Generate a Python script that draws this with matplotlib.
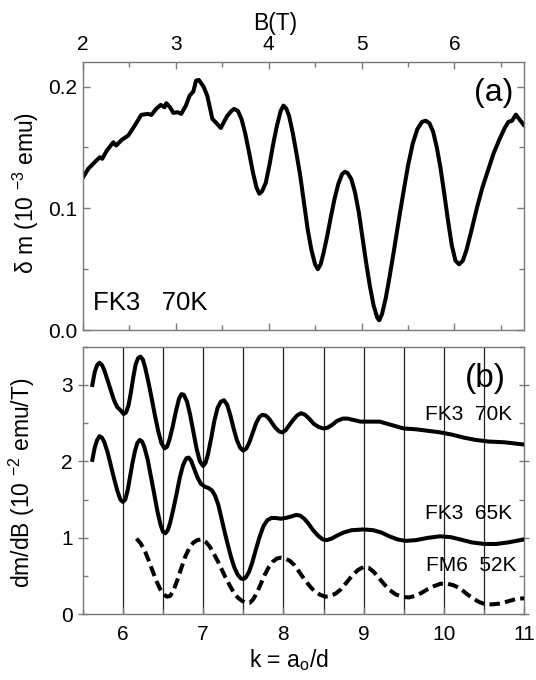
import matplotlib

matplotlib.use("Agg")
import matplotlib.pyplot as plt
from matplotlib.ticker import MultipleLocator, FormatStrFormatter

plt.rcParams["font.family"] = ["Liberation Sans", "DejaVu Sans"]
plt.rcParams["mathtext.fontset"] = "custom"
plt.rcParams["mathtext.rm"] = "Liberation Sans"
plt.rcParams["mathtext.it"] = "Liberation Sans:italic"

# panel (a): delta m vs B, FK3 70K
b_field = [2.00, 2.06, 2.13, 2.185, 2.21, 2.26, 2.33, 2.36, 2.42, 2.49, 2.56, 2.63,
           2.70, 2.74, 2.79, 2.84, 2.88, 2.90, 2.94, 2.975, 3.02, 3.06, 3.11, 3.15,
           3.19, 3.22, 3.25, 3.30, 3.34, 3.395, 3.43, 3.485, 3.555, 3.60, 3.63, 3.67,
           3.71, 3.75, 3.79, 3.83, 3.87, 3.90, 3.93, 3.97, 4.01, 4.05, 4.09, 4.13,
           4.16, 4.19, 4.22, 4.26, 4.30, 4.34, 4.38, 4.42, 4.46, 4.50, 4.53, 4.56,
           4.59, 4.63, 4.67, 4.71, 4.75, 4.79, 4.82, 4.85, 4.89, 4.93, 4.97, 5.01,
           5.05, 5.09, 5.13, 5.17, 5.19, 5.22, 5.26, 5.30, 5.35, 5.40, 5.45, 5.50,
           5.55, 5.60, 5.65, 5.69, 5.73, 5.77, 5.81, 5.85, 5.89, 5.93, 5.97, 6.01,
           6.05, 6.09, 6.13, 6.18, 6.24, 6.30, 6.36, 6.42, 6.48, 6.54, 6.58, 6.62,
           6.66, 6.70, 6.75]
delta_m = [0.125, 0.1325, 0.138, 0.142, 0.1407, 0.1475, 0.1543, 0.1516, 0.1563, 0.1598,
           0.168, 0.1768, 0.1776, 0.1768, 0.1817, 0.185, 0.183, 0.1864, 0.183, 0.1784,
           0.179, 0.1776, 0.1844, 0.1926, 0.196, 0.205, 0.2055, 0.200, 0.1926, 0.1735,
           0.1708, 0.166, 0.176, 0.180, 0.1817, 0.180, 0.173, 0.161, 0.146, 0.130,
           0.117, 0.112, 0.114, 0.121, 0.136, 0.153, 0.168, 0.180, 0.1844, 0.182,
           0.176, 0.162, 0.145, 0.127, 0.105, 0.083, 0.066, 0.054, 0.050, 0.054,
           0.063, 0.077, 0.093, 0.108, 0.120, 0.128, 0.130, 0.129, 0.124, 0.113,
           0.097, 0.076, 0.055, 0.036, 0.020, 0.010, 0.008, 0.013, 0.026, 0.043,
           0.066, 0.090, 0.113, 0.135, 0.153, 0.165, 0.171, 0.172, 0.170, 0.163,
           0.150, 0.133, 0.112, 0.090, 0.070, 0.057, 0.054, 0.057, 0.066, 0.081,
           0.100, 0.117, 0.131, 0.145, 0.156, 0.166, 0.171, 0.172, 0.177, 0.173,
           0.168]

# panel (b): dm/dB vs k
k_70 = [5.62, 5.65, 5.68, 5.71, 5.74, 5.77, 5.81, 5.85, 5.89, 5.93, 5.97, 6.01, 6.04,
        6.07, 6.10, 6.13, 6.16, 6.19, 6.22, 6.25, 6.28, 6.32, 6.36, 6.40, 6.44, 6.48,
        6.52, 6.55, 6.58, 6.62, 6.66, 6.70, 6.73, 6.76, 6.80, 6.84, 6.88, 6.92, 6.96,
        7.00, 7.03, 7.06, 7.10, 7.14, 7.18, 7.22, 7.26, 7.30, 7.34, 7.38, 7.42, 7.46,
        7.50, 7.54, 7.58, 7.62, 7.66, 7.70, 7.74, 7.78, 7.82, 7.86, 7.90, 7.95, 7.99,
        8.03, 8.07, 8.12, 8.17, 8.22, 8.27, 8.32, 8.38, 8.44, 8.50, 8.55, 8.61, 8.67,
        8.74, 8.80, 8.88, 8.96, 9.10, 9.20, 9.30, 9.40, 9.50, 9.65, 9.80, 9.95, 10.10,
        10.25, 10.40, 10.55, 10.75, 11.0]
dmdb_70 = [3.00, 3.17, 3.26, 3.29, 3.26, 3.19, 3.06, 2.93, 2.80, 2.71, 2.67, 2.62, 2.64,
           2.73, 2.90, 3.10, 3.27, 3.35, 3.37, 3.33, 3.22, 3.03, 2.82, 2.60, 2.40, 2.24,
           2.17, 2.19, 2.28, 2.45, 2.65, 2.82, 2.88, 2.87, 2.78, 2.60, 2.38, 2.16, 2.00,
           1.94, 1.98, 2.09, 2.30, 2.53, 2.70, 2.78, 2.80, 2.74, 2.60, 2.43, 2.28, 2.18,
           2.14, 2.17, 2.26, 2.38, 2.50, 2.58, 2.61, 2.60, 2.56, 2.50, 2.44, 2.39, 2.38,
           2.41, 2.47, 2.54, 2.60, 2.63, 2.61, 2.56, 2.49, 2.45, 2.43, 2.44, 2.48, 2.53,
           2.56, 2.56, 2.54, 2.52, 2.52, 2.52, 2.49, 2.46, 2.43, 2.42, 2.40, 2.38, 2.35,
           2.31, 2.28, 2.26, 2.25, 2.22]

k_65 = [5.62, 5.65, 5.68, 5.71, 5.74, 5.77, 5.81, 5.85, 5.89, 5.93, 5.97, 6.00, 6.03,
        6.06, 6.09, 6.12, 6.15, 6.18, 6.21, 6.24, 6.27, 6.31, 6.35, 6.39, 6.43, 6.47,
        6.50, 6.53, 6.56, 6.59, 6.63, 6.67, 6.71, 6.75, 6.79, 6.82, 6.85, 6.89, 6.93,
        6.97, 7.02, 7.07, 7.11, 7.15, 7.19, 7.23, 7.27, 7.31, 7.35, 7.39, 7.43, 7.47,
        7.50, 7.53, 7.57, 7.61, 7.65, 7.70, 7.75, 7.80, 7.85, 7.90, 7.97, 8.03, 8.10,
        8.16, 8.21, 8.26, 8.31, 8.37, 8.43, 8.49, 8.54, 8.60, 8.67, 8.75, 8.85, 9.00,
        9.12, 9.22, 9.32, 9.42, 9.52, 9.65, 9.80, 9.95, 10.08, 10.20, 10.35, 10.50,
        10.65, 10.80, 10.90, 11.0]
dmdb_65 = [2.02, 2.18, 2.28, 2.33, 2.31, 2.25, 2.12, 1.95, 1.78, 1.62, 1.50, 1.47, 1.50,
           1.62, 1.80, 1.98, 2.13, 2.24, 2.28, 2.26, 2.18, 2.02, 1.80, 1.58, 1.35, 1.17,
           1.08, 1.06, 1.10, 1.20, 1.38, 1.58, 1.79, 1.95, 2.04, 2.05, 2.01, 1.90, 1.79,
           1.71, 1.67, 1.65, 1.62, 1.55, 1.43, 1.25, 1.07, 0.90, 0.74, 0.61, 0.52, 0.47,
           0.46, 0.48, 0.55, 0.67, 0.82, 1.00, 1.15, 1.23, 1.26, 1.26, 1.25, 1.26, 1.28,
           1.30, 1.29, 1.25, 1.19, 1.10, 1.03, 0.98, 0.97, 0.99, 1.03, 1.07, 1.10, 1.11,
           1.10, 1.07, 1.02, 0.98, 0.96, 0.97, 1.00, 1.02, 1.01, 0.98, 0.94, 0.92,
           0.92, 0.94, 0.96, 0.98]

k_52 = [6.17, 6.22, 6.27, 6.32, 6.37, 6.42, 6.47, 6.51, 6.55, 6.59, 6.63, 6.68, 6.73,
        6.78, 6.83, 6.88, 6.93, 6.98, 7.03, 7.08, 7.13, 7.18, 7.23, 7.28, 7.33, 7.38,
        7.43, 7.48, 7.53, 7.58, 7.62, 7.67, 7.72, 7.77, 7.82, 7.87, 7.92, 7.97, 8.02,
        8.08, 8.14, 8.20, 8.26, 8.32, 8.38, 8.45, 8.52, 8.58, 8.65, 8.72, 8.79, 8.86,
        8.93, 9.00, 9.06, 9.12, 9.18, 9.25, 9.32, 9.40, 9.48, 9.56, 9.64, 9.72, 9.80,
        9.88, 9.96, 10.04, 10.12, 10.20, 10.28, 10.36, 10.44, 10.52, 10.60, 10.70,
        10.80, 10.90, 11.0]
dmdb_52 = [0.99, 0.93, 0.84, 0.71, 0.57, 0.43, 0.32, 0.26, 0.23, 0.24, 0.31, 0.45, 0.61,
           0.76, 0.87, 0.94, 0.97, 0.98, 0.95, 0.89, 0.80, 0.70, 0.59, 0.48, 0.38, 0.29,
           0.22, 0.18, 0.15, 0.15, 0.19, 0.28, 0.40, 0.52, 0.62, 0.69, 0.73, 0.74, 0.73,
           0.70, 0.64, 0.55, 0.46, 0.38, 0.31, 0.26, 0.23, 0.24, 0.27, 0.33, 0.42, 0.51,
           0.58, 0.62, 0.61, 0.56, 0.49, 0.40, 0.32, 0.26, 0.23, 0.22, 0.24, 0.28, 0.33,
           0.37, 0.40, 0.40, 0.38, 0.34, 0.27, 0.21, 0.16, 0.13, 0.13, 0.14,
           0.17, 0.20, 0.21]

grid_k = [6, 6.5, 7, 7.5, 8, 8.5, 9, 9.5, 10, 10.5]

SPINE = "#7a7a7a"
LW = 2.9

fig = plt.figure(figsize=(5.36, 6.8), dpi=100)
ax1 = fig.add_axes([82.7 / 536, 1 - 330 / 680, 441.5 / 536, 267.7 / 680])
ax2 = fig.add_axes([82.7 / 536, 1 - 614.3 / 680, 441.5 / 536, 267.6 / 680])

for ax in (ax1, ax2):
    for s in ax.spines.values():
        s.set_color(SPINE); s.set_linewidth(1.0)

# ---- panel (a)
ax1.plot(b_field, delta_m, color="black", lw=LW, solid_joinstyle="round", solid_capstyle="round")
ax1.set_xlim(2, 6.75); ax1.set_ylim(0, 0.22)
ax1.xaxis.set_major_locator(MultipleLocator(1)); ax1.xaxis.set_minor_locator(MultipleLocator(0.5))
ax1.yaxis.set_major_locator(MultipleLocator(0.1)); ax1.yaxis.set_minor_locator(MultipleLocator(0.05))
ax1.yaxis.set_major_formatter(FormatStrFormatter("%.1f"))
ax1.tick_params(which="both", direction="in", top=True, right=True, bottom=True,
                labeltop=True, labelbottom=False, color=SPINE, labelsize=15)
ax1.tick_params(which="major", length=5, width=1)
ax1.tick_params(which="minor", length=3.5, width=1)
ax1.tick_params(axis="x", pad=6)
ax1.tick_params(axis="y", pad=4)
ax1.xaxis.set_label_position("top")
ax1.set_xlabel("B(T)", fontsize=16.5)
ax1.xaxis.set_label_coords(0.436, 1.146); ax1.xaxis.label.set_va("center")
ax1.set_ylabel("δ m (10 $^{-3}$ emu)", fontsize=16.5)
ax1.yaxis.set_label_coords(-0.129, 0.512); ax1.yaxis.label.set_va("center")
ax1.text(0.975, 0.884, "(a)", transform=ax1.transAxes, ha="right", va="center", fontsize=23)
ax1.text(0.024, 0.10, "FK3   70K", transform=ax1.transAxes, ha="left", va="center", fontsize=18.5)

# ---- panel (b)
for k in grid_k:
    ax2.axvline(k, color="#222222", lw=0.9, zorder=1)
ax2.plot(k_70, dmdb_70, color="black", lw=LW, solid_joinstyle="round", zorder=3)
ax2.plot(k_65, dmdb_65, color="black", lw=LW, solid_joinstyle="round", zorder=3)
ax2.plot(k_52, dmdb_52, color="black", lw=LW, ls=(0, (2.6, 1.3)), zorder=3)
ax2.set_xlim(5.5, 11); ax2.set_ylim(0, 3.5)
ax2.xaxis.set_major_locator(MultipleLocator(1)); ax2.xaxis.set_minor_locator(MultipleLocator(0.5))
ax2.yaxis.set_major_locator(MultipleLocator(1)); ax2.yaxis.set_minor_locator(MultipleLocator(0.5))
ax2.tick_params(which="both", direction="in", right=True, color=SPINE, labelsize=15)
ax2.tick_params(which="major", length=5, width=1)
ax2.tick_params(which="minor", length=3.5, width=1)
ax2.tick_params(axis="y", which="major", direction="inout", length=7, pad=3.5)
ax2.tick_params(axis="x", pad=7.5)
ax2.set_xlabel(r"k = a$_\mathrm{o}$/d", fontsize=16.5)
ax2.xaxis.set_label_coords(0.467, -0.171); ax2.xaxis.label.set_va("center")
ax2.set_ylabel("dm/dB (10 $^{-2}$ emu/T)", fontsize=16.5)
ax2.yaxis.set_label_coords(-0.138, 0.49); ax2.yaxis.label.set_va("center")
ax2.text(0.958, 0.883, "(b)", transform=ax2.transAxes, ha="right", va="center", fontsize=24)
ax2.text(10.85, 2.61, "FK3  70K", ha="right", va="center", fontsize=15, zorder=4)
ax2.text(10.85, 1.32, "FK3  65K", ha="right", va="center", fontsize=15, zorder=4)
ax2.text(10.90, 0.64, "FM6  52K", ha="right", va="center", fontsize=15, zorder=4)

fig.savefig("out.png", dpi=100)
